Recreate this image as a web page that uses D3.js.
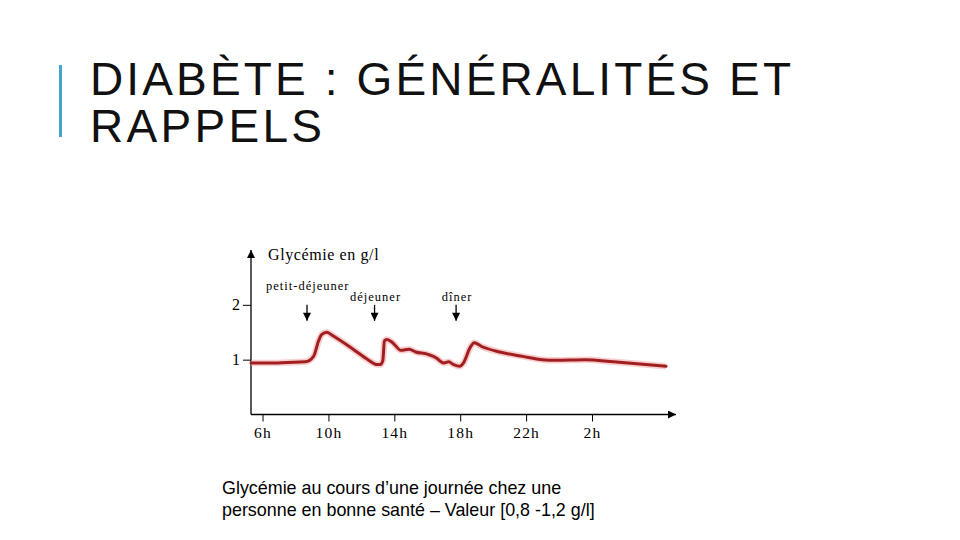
<!DOCTYPE html>
<html lang="fr">
<head>
<meta charset="utf-8">
<title>Diabète : généralités et rappels</title>
<script src="https://cdn.jsdelivr.net/npm/d3@7"></script>
<style>
  body { margin: 0; background: #fff; }
  svg { display: block; }
  .titre { font-family: "Liberation Sans", Arial, sans-serif; font-size: 46px; fill: #111; }
  .serif { font-family: "Liberation Serif", "Times New Roman", serif; fill: #000; }
  .legende { font-family: "Liberation Sans", Arial, sans-serif; font-size: 17.9px; fill: #000; }
</style>
</head>
<body>
<div class="slide"></div>
<script>
// Textes
const titleLines = ["DIABÈTE : GÉNÉRALITÉS ET", "RAPPELS"];
const captionLines = [
    "Glycémie au cours d’une journée chez une",
    "personne en bonne santé – Valeur [0,8 -1,2 g/l]"
];
const axisLabel = "Glycémie en g/l";

// Courbe (heure de la journée, 26 = 2h du lendemain) et glycémie en g/l
const hours = [5.3, 6.5, 7.5, 8.6, 9.1, 9.4, 9.6, 9.9, 10.3, 11.5, 12.4, 12.95, 13.15, 13.3, 13.4, 13.55,
    13.9, 14.4, 14.9, 15.3, 16.0, 16.6, 16.8, 17.0, 17.3, 17.6, 17.97, 18.2, 18.6, 18.85, 19.3, 20.4,
    21.8, 23.0, 23.8, 25.6, 27.3, 30.5];
const glycemia = [0.94, 0.94, 0.95, 0.96, 1.06, 1.34, 1.46, 1.50, 1.43, 1.19, 1.00, 0.91, 0.91, 0.98, 1.34, 1.37,
    1.31, 1.17, 1.19, 1.14, 1.10, 1.02, 0.97, 0.94, 0.96, 0.91, 0.88, 0.94, 1.22, 1.31, 1.24, 1.14,
    1.06, 1.00, 0.99, 1.00, 0.96, 0.88];

// Axes
const tickHours = [6, 10, 14, 18, 22, 26];
const tickLabels = ["6h", "10h", "14h", "18h", "22h", "2h"];
const yTicks = [1, 2];

// Repas
const meals = ["petit-déjeuner", "déjeuner", "dîner"];
const mealHours = [8.7, 12.8, 17.75];

function createSlide() {
    const width = 960, height = 540;
    const plot = { left: 251, right: 676, top: 250, bottom: 414.5 };

    const svg = d3.select("div.slide").append("svg")
        .attr("width", width)
        .attr("height", height);

    // Flèches
    const defs = svg.append("defs");
    defs.append("marker")
        .attr("id", "fleche")
        .attr("markerUnits", "userSpaceOnUse")
        .attr("viewBox", "0 0 10 10")
        .attr("refX", 10).attr("refY", 5)
        .attr("markerWidth", 9).attr("markerHeight", 8)
        .attr("orient", "auto")
        .append("path")
        .attr("d", "M0,0L10,5L0,10Z")
        .attr("fill", "#000");

    // Titre
    svg.append("rect")
        .attr("x", 59).attr("y", 65)
        .attr("width", 3).attr("height", 72)
        .attr("fill", "#40a8cf");

    svg.selectAll(".titre")
        .data(titleLines)
        .enter().append("text")
        .attr("class", "titre")
        .attr("x", 90)
        .attr("y", (d, i) => 95 + i * 47)
        .attr("textLength", (d, i) => i === 0 ? 701 : 232)
        .attr("lengthAdjust", "spacing")
        .text(d => d);

    // Skalor
    const x = d3.scaleLinear().domain([5.3, 31.1]).range([plot.left, plot.right]);
    const y = d3.scaleLinear().domain([0, 3]).range([plot.bottom, plot.top]);

    // Axe y
    const yAxis = svg.append("g")
        .attr("transform", `translate(${plot.left},0)`)
        .call(d3.axisLeft(y).tickValues(yTicks).tickSize(8).tickPadding(3).tickFormat(d3.format("d")));
    yAxis.select(".domain").remove();
    yAxis.selectAll("text").attr("class", "serif").style("font-size", "16px");

    // Axe x
    const xAxis = svg.append("g")
        .attr("transform", `translate(0,${plot.bottom})`)
        .call(d3.axisBottom(x).tickValues(tickHours).tickSize(7).tickPadding(5)
            .tickFormat((d, i) => tickLabels[i]));
    xAxis.select(".domain").remove();
    xAxis.selectAll("text").attr("class", "serif")
        .style("font-size", "15.5px").style("letter-spacing", "1.2px");

    svg.append("line")
        .attr("x1", plot.left).attr("y1", plot.bottom)
        .attr("x2", plot.left).attr("y2", plot.top)
        .attr("stroke", "#000").attr("stroke-width", 1.3)
        .attr("marker-end", "url(#fleche)");
    svg.append("line")
        .attr("x1", plot.left).attr("y1", plot.bottom)
        .attr("x2", plot.right).attr("y2", plot.bottom)
        .attr("stroke", "#000").attr("stroke-width", 1.3)
        .attr("marker-end", "url(#fleche)");

    svg.append("text")
        .attr("class", "serif")
        .attr("x", 268).attr("y", 260)
        .style("font-size", "16px")
        .style("letter-spacing", "0.6px")
        .text(axisLabel);

    // Courbe
    const points = hours.map((h, i) => [h, glycemia[i]]);
    const line = d3.line()
        .x(d => x(d[0]))
        .y(d => y(d[1]))
        .curve(d3.curveMonotoneX);

    svg.append("path")
        .datum(points)
        .attr("d", line)
        .attr("fill", "none")
        .attr("stroke", "#f4a5a5")
        .attr("stroke-opacity", 0.55)
        .attr("stroke-width", 6.5)
        .attr("stroke-linejoin", "round");
    svg.append("path")
        .datum(points)
        .attr("d", line)
        .attr("fill", "none")
        .attr("stroke", "#a11f20")
        .attr("stroke-width", 3)
        .attr("stroke-linejoin", "round")
        .attr("stroke-linecap", "round");

    // Repas
    svg.selectAll(".repas")
        .data(meals)
        .enter().append("line")
        .attr("class", "repas")
        .attr("x1", (d, i) => x(mealHours[i]))
        .attr("x2", (d, i) => x(mealHours[i]))
        .attr("y1", y(2))
        .attr("y2", y(2) + 16)
        .attr("stroke", "#000")
        .attr("stroke-width", 1.3)
        .attr("marker-end", "url(#fleche)");

    svg.selectAll(".repas-label")
        .data(meals)
        .enter().append("text")
        .attr("class", "serif repas-label")
        .attr("x", (d, i) => i === 0 ? 266 : x(mealHours[i]) + 1)
        .attr("y", (d, i) => i === 0 ? 290 : 301)
        .attr("text-anchor", (d, i) => i === 0 ? "start" : "middle")
        .style("font-size", "12.5px")
        .style("letter-spacing", "1px")
        .text(d => d);

    // Légende
    svg.selectAll(".legende")
        .data(captionLines)
        .enter().append("text")
        .attr("class", "legende")
        .attr("x", 222)
        .attr("y", (d, i) => 494 + i * 21.5)
        .text(d => d);
}

createSlide();
</script>
</body>
</html>
